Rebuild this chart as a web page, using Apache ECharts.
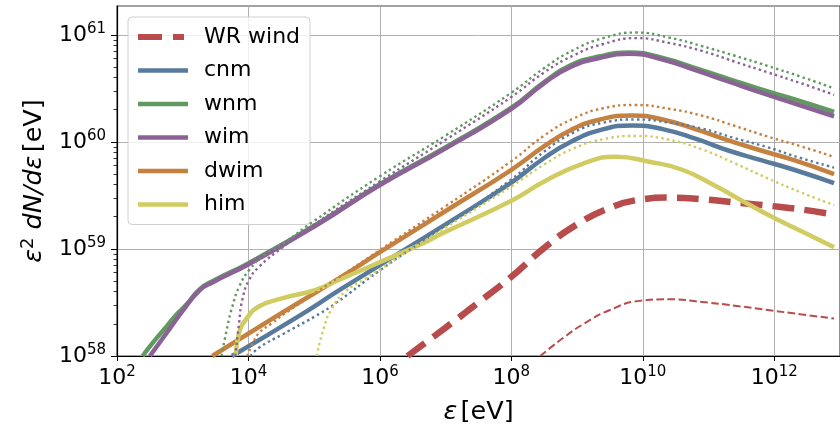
<!DOCTYPE html>
<html>
<head>
<meta charset="UTF-8">
<title>e2 dN/de</title>
<script src="https://cdn.jsdelivr.net/npm/echarts@6/dist/echarts.min.js"></script>
<style>
    html, body { margin: 0; padding: 0; background: #fff; }
    #main { width: 840px; height: 430px; }
</style>
</head>
<body>
<div id="main"></div>
<script>
    // all values are log10: [log10(eps / eV), log10(eps^2 dN/deps / eV)]
    var xTicks = [2, 4, 6, 8, 10, 12];
    var yTicks = [58, 59, 60, 61];
    var legendNames = ['WR wind', 'cnm', 'wnm', 'wim', 'dwim', 'him'];

    var wrWind = [[6.42,58.0],[7.0,58.265],[7.5,58.50],[8.0,58.74],[8.5,59.01],[9.0,59.23],[9.5,59.385],[9.95,59.46],[10.4,59.48],[10.9,59.465],[11.4,59.435],[11.9,59.405],[12.4,59.37],[12.91,59.32]];
    var wrWindThin = [[8.44,58.0],[8.79,58.17],[9.1,58.30],[9.5,58.43],[9.95,58.515],[10.4,58.53],[10.9,58.505],[11.4,58.47],[11.9,58.43],[12.4,58.39],[12.91,58.35]];

    var cnm = [[3.75,58.0],[4.76,58.37],[5.37,58.61],[6.0,58.85],[7.0,59.23],[8.0,59.62],[8.5,59.85],[8.9,60.0],[9.35,60.11],[9.84,60.154],[10.3,60.12],[10.8,60.03],[11.3,59.92],[11.8,59.83],[12.3,59.74],[12.91,59.615]];
    var cnmDot = [[4.03,58.0],[4.16,58.077],[4.51,58.2],[5.01,58.37],[5.32,58.49],[6.0,58.80],[7.0,59.22],[8.0,59.65],[8.5,59.91],[8.95,60.09],[9.4,60.18],[9.9,60.21],[10.4,60.18],[10.9,60.125],[11.4,60.035],[11.9,59.95],[12.4,59.85],[12.91,59.76]];

    var wnm = [[2.39,58.0],[2.54,58.12],[2.755,58.277],[2.88,58.37],[3.057,58.48],[3.26,58.625],[3.46,58.70],[4.01,58.87],[5.02,59.225],[6.0,59.605],[7.0,59.95],[8.0,60.32],[8.5,60.56],[8.9,60.715],[9.35,60.80],[9.8,60.835],[10.3,60.785],[10.8,60.69],[11.3,60.59],[11.8,60.49],[12.3,60.40],[12.91,60.28]];
    var wnmDot = [[3.59,58.0],[3.68,58.277],[3.755,58.462],[3.857,58.646],[4.008,58.80],[4.26,58.954],[4.52,59.046],[4.97,59.25],[6.0,59.68],[7.0,60.06],[8.0,60.46],[8.5,60.69],[8.95,60.86],[9.4,60.97],[9.9,61.022],[10.4,60.975],[10.9,60.895],[11.4,60.805],[11.9,60.71],[12.4,60.61],[12.91,60.50]];

    var wim = [[2.50,58.0],[2.755,58.215],[3.01,58.43],[3.26,58.616],[3.46,58.69],[4.01,58.86],[5.02,59.216],[6.0,59.597],[7.0,59.94],[8.0,60.31],[8.5,60.55],[8.9,60.70],[9.35,60.785],[9.8,60.823],[10.3,60.77],[10.8,60.67],[11.3,60.565],[11.8,60.46],[12.3,60.36],[12.91,60.24]];
    var wimDot = [[3.80,58.0],[3.857,58.307],[3.906,58.524],[4.008,58.708],[4.158,58.831],[4.52,59.016],[4.97,59.216],[6.0,59.632],[7.0,60.02],[8.0,60.42],[8.5,60.65],[8.95,60.81],[9.4,60.915],[9.9,60.97],[10.4,60.925],[10.9,60.85],[11.4,60.75],[11.9,60.65],[12.4,60.55],[12.91,60.44]];

    var dwim = [[3.45,58.0],[4.5,58.40],[5.37,58.723],[6.0,58.97],[7.0,59.355],[8.0,59.74],[8.5,59.96],[8.9,60.11],[9.35,60.21],[9.84,60.247],[10.3,60.21],[10.8,60.12],[11.3,60.015],[11.8,59.92],[12.3,59.83],[12.91,59.70]];
    var dwimDot = [[3.98,58.0],[4.06,58.108],[4.16,58.215],[4.36,58.307],[4.56,58.40],[6.0,58.99],[7.0,59.40],[8.0,59.82],[8.5,60.06],[8.95,60.22],[9.4,60.315],[9.89,60.345],[10.4,60.31],[10.9,60.245],[11.4,60.15],[11.9,60.05],[12.4,59.96],[12.91,59.86]];

    var him = [[3.807,58.0],[3.857,58.215],[3.958,58.339],[4.158,58.462],[4.51,58.538],[5.014,58.616],[5.366,58.708],[5.77,58.815],[6.0,58.877],[6.574,59.03],[7.0,59.16],[8.0,59.45],[8.5,59.63],[9.1,59.80],[9.59,59.862],[10.1,59.815],[10.6,59.74],[11.1,59.59],[11.6,59.42],[12.0,59.29],[12.5,59.14],[12.91,59.016]];
    var himDot = [[5.04,58.0],[5.14,58.25],[5.265,58.44],[5.47,58.6],[5.77,58.72],[6.0,58.81],[7.0,59.2],[8.0,59.585],[8.5,59.79],[8.95,59.94],[9.4,60.025],[9.89,60.056],[10.4,60.02],[10.9,59.93],[11.4,59.80],[11.9,59.66],[12.4,59.53],[12.91,59.41]];

    var colors = {
        wr: '#b84c4c',
        cnm: '#587b9d',
        wnm: '#619a60',
        wim: '#8b6296',
        dwim: '#c5813f',
        him: '#d0cc62'
    };

    // minor ticks at 2..9 x 10^n on the y axis
    var minorTicks = [];
    for (var n = 58; n <= 60; n++) {
        for (var k = 2; k <= 9; k++) minorTicks.push(n + Math.log10(k));
    }

    var font = 'DejaVu Sans';
    var powRich = {
        b: { fontFamily: font, fontSize: 22, color: '#000', lineHeight: 26 },
        s: { fontFamily: font, fontSize: 15, color: '#000', lineHeight: 15, verticalAlign: 'top' }
    };
    var nameRich = {
        i: { fontFamily: font, fontSize: 25.5, fontStyle: 'italic', color: '#000', lineHeight: 30 },
        s: { fontFamily: font, fontSize: 18, color: '#000', lineHeight: 18, verticalAlign: 'top' },
        n: { fontFamily: font, fontSize: 25.5, color: '#000', lineHeight: 30 }
    };

    function line(name, data, color, width, dash) {
        return {
            name: name,
            type: 'line',
            data: data,
            symbol: 'none',
            showSymbol: false,
            smooth: 0.5,
            clip: true,
            silent: true,
            lineStyle: { color: color, width: width, type: dash, cap: 'butt' },
            itemStyle: { color: color }
        };
    }

    var dot = [2.4, 3.2];
    var series = [
        line('WR wind', wrWind, colors.wr, 6.5, [22, 10]),
        line('cnm', cnm, colors.cnm, 4.5, 'solid'),
        line('wnm', wnm, colors.wnm, 4.5, 'solid'),
        line('wim', wim, colors.wim, 4.5, 'solid'),
        line('dwim', dwim, colors.dwim, 4.5, 'solid'),
        line('him', him, colors.him, 4.5, 'solid'),
        line('WR wind', wrWindThin, colors.wr, 2, [7.5, 3.5]),
        line('cnm', cnmDot, colors.cnm, 2.4, dot),
        line('wnm', wnmDot, colors.wnm, 2.4, dot),
        line('wim', wimDot, colors.wim, 2.4, dot),
        line('dwim', dwimDot, colors.dwim, 2.4, dot),
        line('him', himDot, colors.him, 2.4, dot)
    ];

    var legendData = legendNames.map(function (name) {
        if (name === 'WR wind') {
            return { name: name, lineStyle: { width: 6, type: [24, 11, 11, 60], color: colors.wr } };
        }
        return { name: name, lineStyle: { width: 4.5, type: 'solid' } };
    });

    var chart = echarts.init(document.getElementById('main'));
    chart.setOption({
        animation: false,
        backgroundColor: '#fff',
        grid: { left: 117, top: 6, right: -6, bottom: 70, show: true, borderColor: '#444', borderWidth: 1.2 },
        legend: {
            data: legendData,
            orient: 'vertical',
            left: 128,
            top: 17,
            padding: [7, 10, 7, 7],
            itemWidth: 50,
            itemHeight: 14,
            itemGap: 7.5,
            backgroundColor: 'rgba(255,255,255,0.8)',
            borderColor: '#d0d0d0',
            borderWidth: 1,
            borderRadius: 4,
            itemStyle: { opacity: 0, borderWidth: 0 },
            lineStyle: { width: 4.5 },
            textStyle: { fontFamily: font, fontSize: 22, color: '#000', lineHeight: 26, padding: [0, 0, 0, 11] }
        },
        xAxis: {
            type: 'value',
            min: 2,
            max: 13,
            interval: 2,
            axisLine: { show: true, lineStyle: { color: '#000', width: 1.2 } },
            axisTick: { show: true, length: 5, lineStyle: { color: '#000', width: 1 }, customValues: xTicks },
            axisLabel: {
                margin: 9,
                customValues: xTicks,
                formatter: function (v) { return '{b|10}{s|' + v + '}'; },
                rich: powRich
            },
            splitLine: { show: true, lineStyle: { color: '#b0b0b0', width: 1 } },
            name: '{i|ε} {n|[eV]}',
            nameLocation: 'middle',
            nameGap: 41,
            nameTextStyle: { rich: nameRich }
        },
        yAxis: [{
            type: 'value',
            min: 58,
            max: 61.27,
            interval: 1,
            axisLine: { show: true, lineStyle: { color: '#000', width: 1.2 } },
            axisTick: { show: true, length: 6, lineStyle: { color: '#000', width: 1 }, customValues: yTicks },
            axisLabel: {
                margin: 11,
                customValues: yTicks,
                formatter: function (v) { return '{b|10}{s|' + v + '}'; },
                rich: powRich
            },
            splitLine: { show: true, lineStyle: { color: '#b0b0b0', width: 1 } },
            name: '{i|ε}{s|2}{i| dN/dε} {n|[eV]}',
            nameLocation: 'middle',
            nameRotate: 90,
            nameGap: 68,
            nameTextStyle: { rich: nameRich }
        }, {
            type: 'value',
            min: 58,
            max: 61.27,
            position: 'left',
            axisLine: { show: false },
            axisTick: { show: true, length: 3.5, lineStyle: { color: '#000', width: 0.8 }, customValues: minorTicks },
            axisLabel: { show: false },
            splitLine: { show: false }
        }],
        series: series
    });
</script>
</body>
</html>
